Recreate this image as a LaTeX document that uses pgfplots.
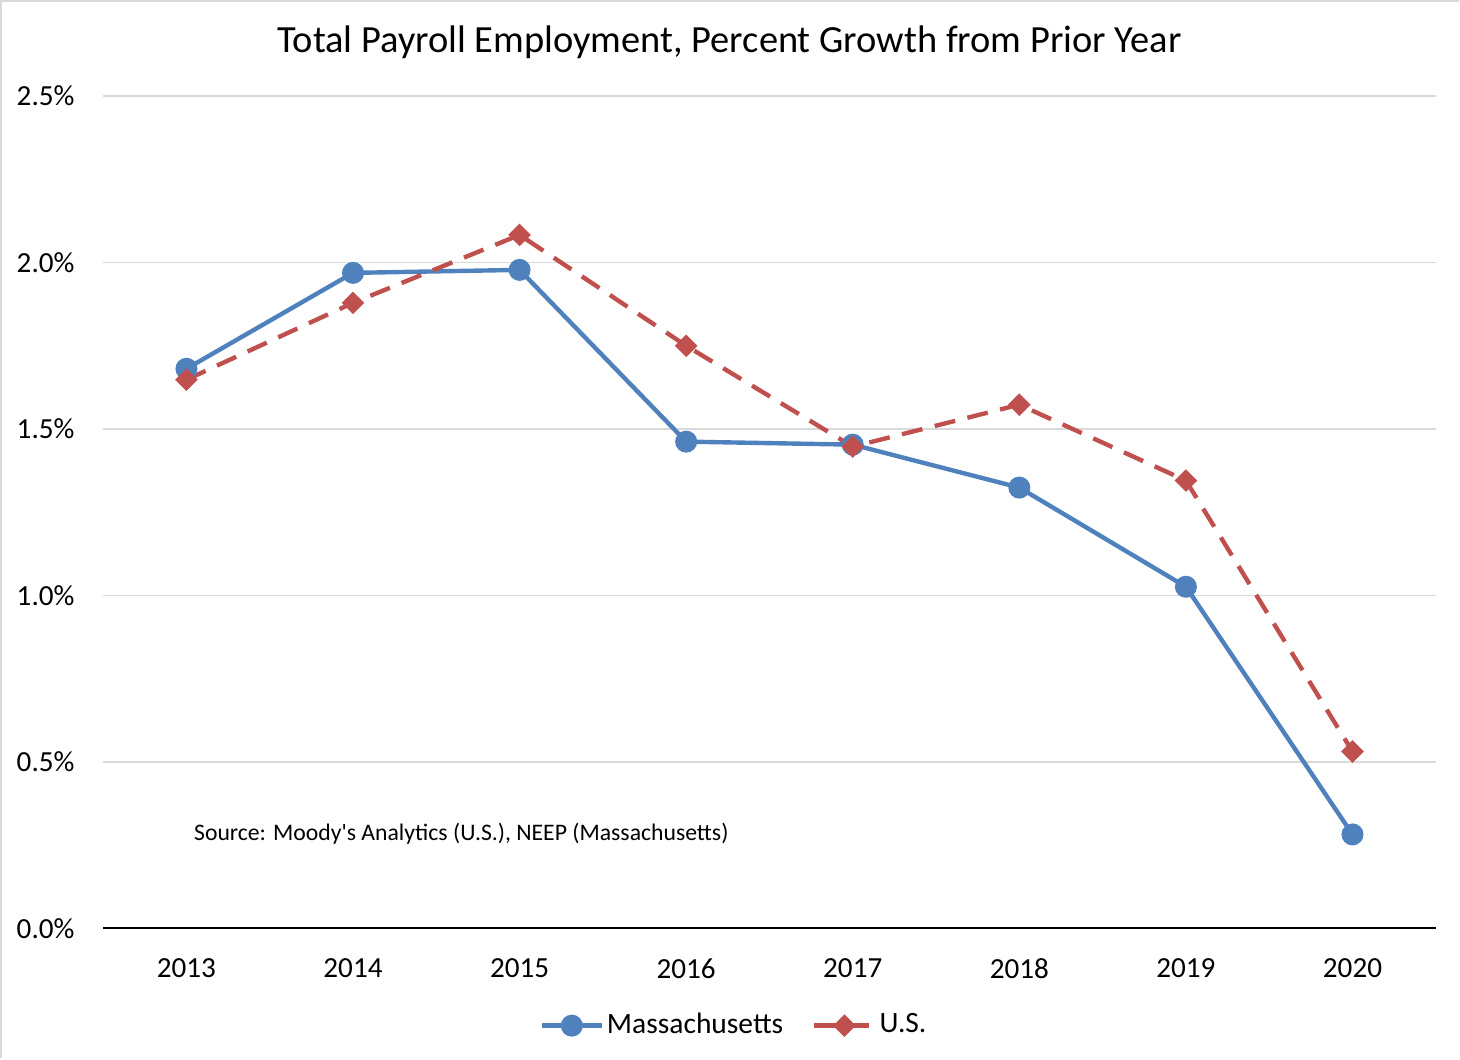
\documentclass[border=0pt]{standalone}
\usepackage{pgfplots}
\pgfplotsset{compat=1.18}
\usepackage{fontspec}
\setmainfont{Carlito}
\definecolor{mablue}{HTML}{4F81BD}
\definecolor{usred}{HTML}{C0504D}
\definecolor{gridgray}{HTML}{D9D9D9}
\pgfplotstableread{
x ma us
0 1.681 1.648
1 1.969 1.879
2 1.978 2.083
3 1.462 1.750
4 1.453 1.447
5 1.324 1.573
6 1.026 1.345
7 0.282 0.531
}\datatable
\begin{document}
\begin{tikzpicture}
\path (0,0) rectangle (146mm,105.9mm);
\draw[gridgray, line width=0.25mm] (0.1mm,0) -- (0.1mm,105.8mm) -- (146mm,105.8mm);
\node[font=\fontsize{10.95}{13}\selectfont, inner sep=0pt] at (73.0mm,101.7mm) {Total Payroll Employment, Percent Growth from Prior Year};
\begin{axis}[
  at={(10.3mm,13.0mm)}, anchor=south west,
  scale only axis, width=133.4mm, height=83.3mm,
  xmin=-0.5, xmax=7.5, ymin=0, ymax=2.5,
  clip=false,
  axis y line*=left,
  axis x line*=bottom,
  y axis line style={draw=none},
  x axis line style={black, line width=0.2mm},
  xtick={0,...,7},
  xticklabels={2013,2014,2015,2016,2017,2018,2019,2020},
  ytick={0,0.5,1,1.5,2,2.5},
  yticklabels={0.0\%,0.5\%,1.0\%,1.5\%,2.0\%,2.5\%},
  major tick length=0pt,
  tick style={draw=none},
  ymajorgrids,
  grid style={gridgray, line width=0.17mm},
  ticklabel style={font=\fontsize{8.3}{10}\selectfont, inner sep=0pt},
  yticklabel style={anchor=east, xshift=-2.8mm},
  xticklabel style={anchor=north, yshift=-3.0mm},
  legend columns=2,
  legend style={draw=none, at={(0.4738,-0.117)}, anchor=center,
    font=\fontsize{8.4}{10}\selectfont, inner sep=0pt,
    nodes={inner sep=0.3mm},
    /tikz/every even column/.append style={column sep=2.6mm}},
]
\addplot[mablue, line width=0.44mm, mark=*, mark size=2.5pt, mark options={solid, fill=mablue}] table[x=x, y=ma] {\datatable};
\addlegendentry{Massachusetts}
\addplot[usred, line width=0.44mm, dash pattern=on 6pt off 3.6pt, mark=square*, mark size=1.65pt, mark options={solid, rotate=45, fill=usred}] table[x=x, y=us] {\datatable};
\addlegendentry{U.S.}
\node[anchor=west, inner sep=0pt, font=\fontsize{6.75}{8}\selectfont] at (axis cs:0.042,0.285) {Source: Moody\textquotesingle s Analytics (U.S.), NEEP (Massachusetts)};
\end{axis}
\end{tikzpicture}
\end{document}
